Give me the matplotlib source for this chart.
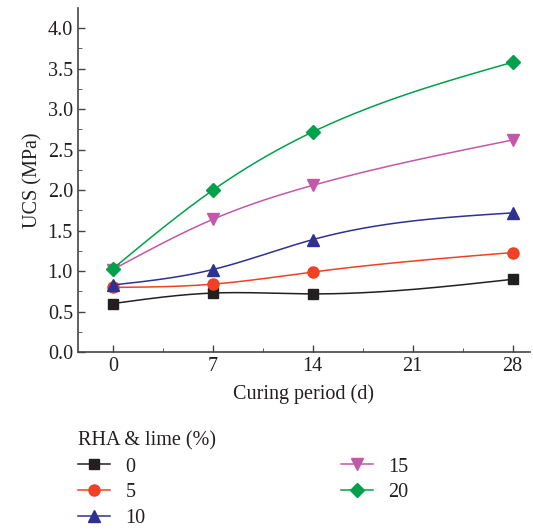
import numpy as np
import matplotlib.pyplot as plt

plt.rcParams['font.family'] = ['Liberation Serif', 'DejaVu Serif']

days = [0, 7, 14, 28]
labels = ['0', '5', '10', '15', '20']
ucs_0 = [0.60, 0.73, 0.72, 0.90]
ucs_5 = [0.80, 0.84, 0.99, 1.23]
ucs_10 = [0.83, 1.02, 1.39, 1.72]
ucs_15 = [1.02, 1.64, 2.06, 2.62]
ucs_20 = [1.03, 2.00, 2.72, 3.58]

series = [ucs_0, ucs_5, ucs_10, ucs_15, ucs_20]
colors = ['#231f20', '#ef4123', '#2e3192', '#c458a6', '#00a14b']
markers = ['s', 'o', '^', 'v', 'D']
msizes = [7, 8, 8, 8, 7]


def natural_spline(x, y, xs):
    # natural cubic spline through the points
    x = np.asarray(x, float); y = np.asarray(y, float)
    n = len(x)
    h = np.diff(x)
    A = np.zeros((n, n)); r = np.zeros(n)
    A[0, 0] = A[-1, -1] = 1.0
    for i in range(1, n-1):
        A[i, i-1] = h[i-1]
        A[i, i] = 2*(h[i-1]+h[i])
        A[i, i+1] = h[i]
        r[i] = 3*((y[i+1]-y[i])/h[i] - (y[i]-y[i-1])/h[i-1])
    c = np.linalg.solve(A, r)
    b = (y[1:]-y[:-1])/h - h*(2*c[:-1]+c[1:])/3
    d = (c[1:]-c[:-1])/(3*h)
    idx = np.clip(np.searchsorted(x, xs)-1, 0, n-2)
    t = xs - x[idx]
    return y[idx] + b[idx]*t + c[idx]*t**2 + d[idx]*t**3


fig = plt.figure(figsize=(5.33, 5.32), dpi=100)
ax = fig.add_axes([0.146, 0.338, 0.848, 0.647])

xs = np.linspace(0, 28, 300)
for vals, col, mk, ms, lab in zip(series, colors, markers, msizes, labels):
    ax.plot(xs, natural_spline(days, vals, xs), color=col, lw=1.1)
    ax.plot(days, vals, linestyle='none', marker=mk, color=col, ms=ms)
    ax.plot([], [], color=col, marker=mk, ms=ms, lw=1.1, label=lab)

ax.set_xlim(-2.45, 29.2)
ax.set_ylim(0, 4.25)
ax.set_xticks([0, 7, 14, 21, 28])
ax.set_xticks([3.5, 10.5, 17.5, 24.5], minor=True)
ax.set_yticks(np.arange(0, 4.01, 0.5))
ax.set_yticklabels(['%.1f' % v for v in np.arange(0, 4.01, 0.5)])
ax.set_yticks(np.arange(0.25, 4.2, 0.5), minor=True)
ax.tick_params(direction='in', labelsize=14.5, color='#444444', length=5, width=1,
               labelcolor='#231f20')
ax.tick_params(which='minor', direction='in', length=3, color='#444444')
for s in ['top', 'right']:
    ax.spines[s].set_visible(False)
for s in ['left', 'bottom']:
    ax.spines[s].set_color('#444444')
    ax.spines[s].set_linewidth(1.2)

ax.set_xlabel('Curing period (d)', fontsize=14.5, color='#231f20', labelpad=6)
ax.set_ylabel('UCS (MPa)', fontsize=14.5, color='#231f20', labelpad=4)

leg = fig.legend(loc='upper left', bbox_to_anchor=(0.12, 0.215), ncol=2, frameon=False,
                 title='RHA & lime (%)', fontsize=14.5, title_fontsize=14.5,
                 alignment='left', columnspacing=9.7, handlelength=1.6,
                 labelspacing=0.32, handletextpad=0.75, borderpad=0.2)
plt.setp(leg.get_title(), color='#231f20')
for t in leg.get_texts():
    t.set_color('#231f20')

fig.savefig('out.png', dpi=100)
